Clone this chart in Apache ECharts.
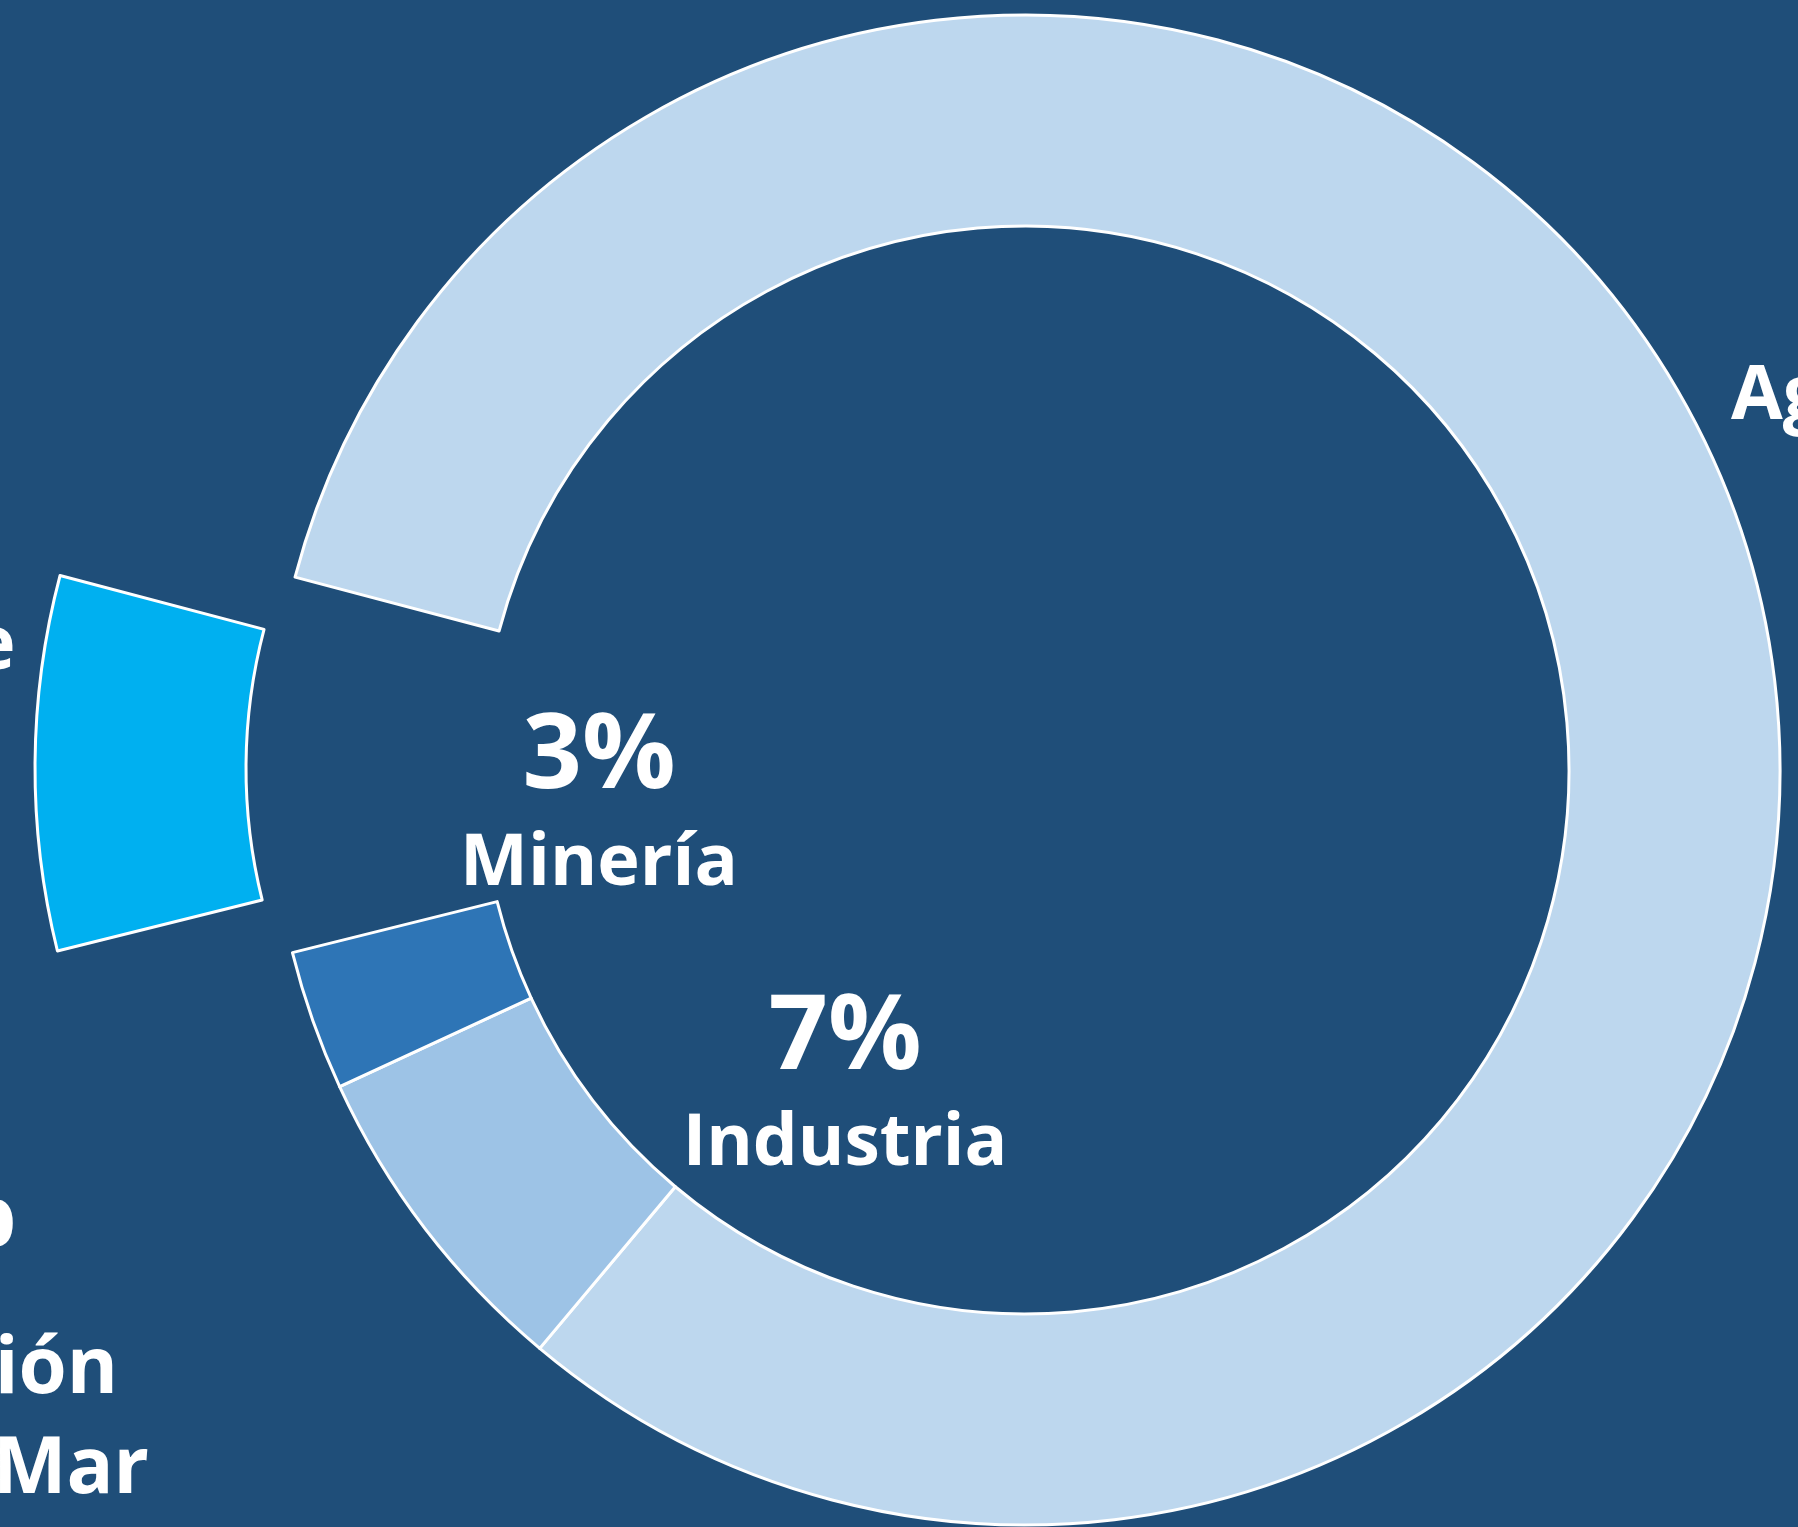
<!DOCTYPE html>
<html>
<head>
<meta charset="utf-8">
<script src="https://cdn.jsdelivr.net/npm/echarts@6/dist/echarts.min.js"></script>
<style>
html,body{margin:0;padding:0;background:#1F4E79;overflow:hidden;}
#c{width:1798px;height:1527px;}
</style>
</head>
<body>
<div id="c"></div>
<script>
var categories = ['Agropecuario', 'Industria', 'Minería', 'Agua Potable'];
var values = [82, 7, 3, 8];
var colors = ['#BDD7EE', '#9DC3E6', '#2E75B6', '#00B0F0'];
var explodedIndex = 3;
var noteLines = ['1%', 'Desalinización', 'Agua de Mar'];

var FONT = '"Open Sans", "Noto Sans", sans-serif';

// label placement (style, not data)
var labelPos = [
  {x: 1731, y: 444, align: 'left', verticalAlign: 'bottom'},
  {x: 845, y: 1085, align: 'center', verticalAlign: 'middle'},
  {x: 599, y: 804, align: 'center', verticalAlign: 'middle'},
  {align: 'right', verticalAlign: 'bottom'}
];
// offset for the exploded slice label (its anchor follows the slice)
var explodedLabelOffset = [-122, -70];
// per-item label text styling (edge labels keep percent line out of view)
var labelRich = [
  {p: {fontSize: 104, padding: [0, 0, 0, 900]}, n: {fontSize: 75}},
  {p: {fontSize: 104}, n: {fontSize: 71}},
  {p: {fontSize: 104}, n: {fontSize: 72}},
  {p: {fontSize: 104, padding: [0, 900, 0, 0]}, n: {fontSize: 75}}
];

var data = categories.map(function (name, i) {
  var base = {fontWeight: 'bold', color: '#ffffff', fontFamily: FONT};
  var p = Object.assign({lineHeight: 120}, base, labelRich[i].p);
  var n = Object.assign({lineHeight: 92}, base, labelRich[i].n);
  var item = {
    name: name,
    value: values[i],
    itemStyle: {color: colors[i]},
    label: {rich: {p: p, n: n}}
  };
  if (i === explodedIndex) {
    item.selected = true;
    item.label.offset = explodedLabelOffset;
    item.select = {
      itemStyle: {color: colors[i], borderColor: '#ffffff', borderWidth: 3},
      label: {offset: explodedLabelOffset, rich: {p: p, n: n}}
    };
  }
  return item;
});

var chart = echarts.init(document.getElementById('c'), null, {renderer: 'canvas'});
chart.setOption({
  backgroundColor: '#1F4E79',
  animation: false,
  series: [{
    type: 'pie',
    center: [1025, 770],
    radius: [544, 755],
    startAngle: 165.2,
    clockwise: true,
    selectedMode: 'single',
    selectedOffset: 235,
    avoidLabelOverlap: false,
    silent: true,
    itemStyle: {borderColor: '#ffffff', borderWidth: 3},
    label: {
      show: true,
      position: 'inside',
      overflow: 'none',
      color: '#ffffff',
      fontFamily: FONT,
      formatter: function (p) { return '{p|' + p.value + '%}\n{n|' + p.name + '}'; }
    },
    labelLine: {show: false},
    labelLayout: function (params) {
      return labelPos[params.dataIndex];
    },
    emphasis: {disabled: true},
    data: data
  }],
  graphic: [
    {type: 'text', x: 16, y: 1215, style: {text: noteLines[0], fill: '#ffffff', font: 'bold 108px ' + FONT, align: 'right', verticalAlign: 'middle'}},
    {type: 'text', x: 118, y: 1371, style: {text: noteLines[1], fill: '#ffffff', font: 'bold 78px ' + FONT, align: 'right', verticalAlign: 'middle'}},
    {type: 'text', x: 149, y: 1471, style: {text: noteLines[2], fill: '#ffffff', font: 'bold 78px ' + FONT, align: 'right', verticalAlign: 'middle'}}
  ]
});
</script>
</body>
</html>
